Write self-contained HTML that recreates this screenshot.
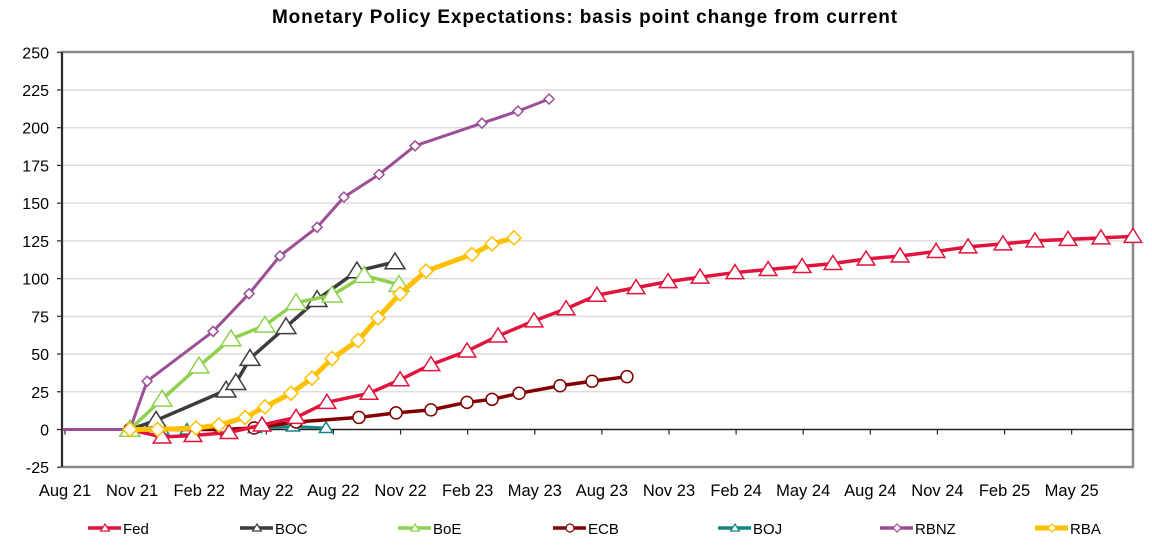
<!DOCTYPE html>
<html><head><meta charset="utf-8"><style>
body{margin:0;background:#fff;font-family:"Liberation Sans",Arial,sans-serif}
svg text{font-family:"Liberation Sans",Arial,sans-serif}
</style></head><body>
<svg id="chart" width="1152" height="550" xmlns="http://www.w3.org/2000/svg">
<text x="585" y="23" text-anchor="middle" font-size="19" font-weight="bold" letter-spacing="0.9">Monetary Policy Expectations: basis point change from current</text>
<g id="grid"></g><g id="axes"></g><g id="series"></g><g id="legend"></g>
</svg>
<script>
const yTicks=[-25,0,25,50,75,100,125,150,175,200,225,250];
const xLabels=["Aug 21","Nov 21","Feb 22","May 22","Aug 22","Nov 22","Feb 23","May 23","Aug 23","Nov 23","Feb 24","May 24","Aug 24","Nov 24","Feb 25","May 25"];
// x values: months since Aug 2021
const fedX=[2.9,4.34,5.72,7.33,8.81,10.33,11.71,13.59,14.98,16.36,17.97,19.36,20.97,22.4,23.78,25.53,26.96,28.39,29.95,31.43,32.95,34.33,35.81,37.33,38.94,40.37,41.93,43.36,44.84,46.31,47.74];
const fedY=[0,-5,-4,-2,3,8,18,24,33,43,52,62,72,80,89,94,98,101,104,106,108,110,113,115,118,121,123,125,126,127,128];
const bocX=[2.9,4.07,7.2,7.64,8.27,9.88,11.27,13.05,14.75];
const bocY=[0,6,26,31,47,68,86,105,111];
const boeX=[2.9,4.34,5.99,7.42,8.94,10.33,11.94,13.37,14.93];
const boeY=[0,20,42,60,69,84,89,102,96];
const ecbX=[2.9,7.06,8.45,10.33,13.14,14.8,16.36,17.97,19.09,20.3,22.13,23.56,25.12];
const ecbY=[0,0,1,5,8,11,13,18,20,24,29,32,35];
const bojX=[2.9,4.34,5.45,6.93,8.49,10.19,11.67];
const bojY=[-1,0,0,0,1,2,1];
const rbnzX=[-0.1,2.9,3.67,6.62,8.23,9.61,11.27,12.47,14.04,15.65,18.64,20.25,21.64];
const rbnzY=[0,0,32,65,90,115,134,154,169,188,203,211,219];
const rbaX=[2.9,4.14,5.86,6.88,8.05,8.94,10.1,11.04,11.94,13.1,13.99,14.98,16.14,18.19,19.09,20.07];
const rbaY=[0,0,1,3,8,15,24,34,47,59,74,90,105,116,123,127];

const NS="http://www.w3.org/2000/svg";
const X0=65,PXM=22.37,L=62,R=1133,T=52,B=467;
const xs=m=>X0+PXM*m;
const ys=v=>429.5-1.509*v;
function mk(tag,attrs,parent){const e=document.createElementNS(NS,tag);for(const k in attrs)e.setAttribute(k,attrs[k]);parent.appendChild(e);return e;}
const grid=document.getElementById('grid'),axes=document.getElementById('axes'),ser=document.getElementById('series'),leg=document.getElementById('legend');
yTicks.forEach(v=>{
  if(v!==0&&v!==-25&&v!==250){const g=mk('line',{x1:L,x2:R,y1:ys(v),y2:ys(v),stroke:'#dcdcdc','stroke-width':1.5},grid);
  
  }
  mk('line',{x1:L-5,x2:L,y1:ys(v),y2:ys(v),stroke:'#222','stroke-width':1.2},axes);
  const t=mk('text',{x:49,y:ys(v)+6,'text-anchor':'end','font-size':16},axes);t.textContent=v;
  
  
});
mk('rect',{x:L,y:T,width:R-L,height:B-T,fill:'none',stroke:'#8a8a8a','stroke-width':2.5},axes);
mk('line',{x1:L,x2:L,y1:T,y2:B,stroke:'#222','stroke-width':1.8},axes);
mk('line',{x1:L,x2:R,y1:ys(0),y2:ys(0),stroke:'#222','stroke-width':1.5},axes);
xLabels.forEach((s,i)=>{
  const x=xs(i*3);
  mk('line',{x1:x,x2:x,y1:ys(0),y2:ys(0)+5,stroke:'#222','stroke-width':1.2},axes);
  const t=mk('text',{x:x,y:496,'text-anchor':'middle','font-size':16.5},axes);t.textContent=s;
  
  
});
function marker(type,x,y,s,col,sw,p){
  if(type==='tri')return mk('polygon',{points:`${x},${y-s} ${x+s*1.1},${y+s*0.75} ${x-s*1.1},${y+s*0.75}`,fill:'#fff',stroke:col,'stroke-width':sw},p);
  if(type==='dia')return mk('polygon',{points:`${x},${y-s} ${x+s},${y} ${x},${y+s} ${x-s},${y}`,fill:'#fff',stroke:col,'stroke-width':sw},p);
  return mk('circle',{cx:x,cy:y,r:s,fill:'#fff',stroke:col,'stroke-width':sw},p);
}
const series=[
 {n:'RBNZ',X:rbnzX,Y:rbnzY,c:'#9b4f96',w:3,m:'dia',s:5,lx:880},
 {n:'BOJ',X:bojX,Y:bojY,c:'#138585',w:3,m:'tri',s:6,lx:718},
 {n:'ECB',X:ecbX,Y:ecbY,c:'#820000',w:3.5,m:'cir',s:6,lx:553},
 {n:'Fed',X:fedX,Y:fedY,c:'#e0143c',w:3.5,m:'tri',s:8,lx:88},
 {n:'BOC',X:bocX,Y:bocY,c:'#3c3c3c',w:3.5,m:'tri',s:9,lx:240},
 {n:'BoE',X:boeX,Y:boeY,c:'#8fd14f',w:3.5,m:'tri',s:9,lx:398},
 {n:'RBA',X:rbaX,Y:rbaY,c:'#ffc000',w:5,m:'dia',s:7,lx:1035},
];
series.forEach(S=>{
  const g=mk('g',{},ser);
  
  
  const pts=S.X.map((m,i)=>xs(m)+','+ys(S.Y[i])).join(' ');
  mk('polyline',{points:pts,fill:'none',stroke:S.c,'stroke-width':S.w,'stroke-linejoin':'round'},g);
  S.X.forEach((m,i)=>{
    if(S.n==='RBNZ'&&i===0)return;
    const p=marker(S.m,xs(m),ys(S.Y[i]),S.s,S.c,1.5,g);
    
    
  });
  const lg=mk('g',{},leg);
  
  
  mk('line',{x1:S.lx,x2:S.lx+33,y1:528,y2:528,stroke:S.c,'stroke-width':S.n==='RBA'?5:3.5},lg);
  marker(S.m,S.lx+17,528,4,S.c,1.2,lg);
  const t=mk('text',{x:S.lx+35,y:534,'font-size':15},lg);t.textContent=S.n;
});
</script>
</body></html>
